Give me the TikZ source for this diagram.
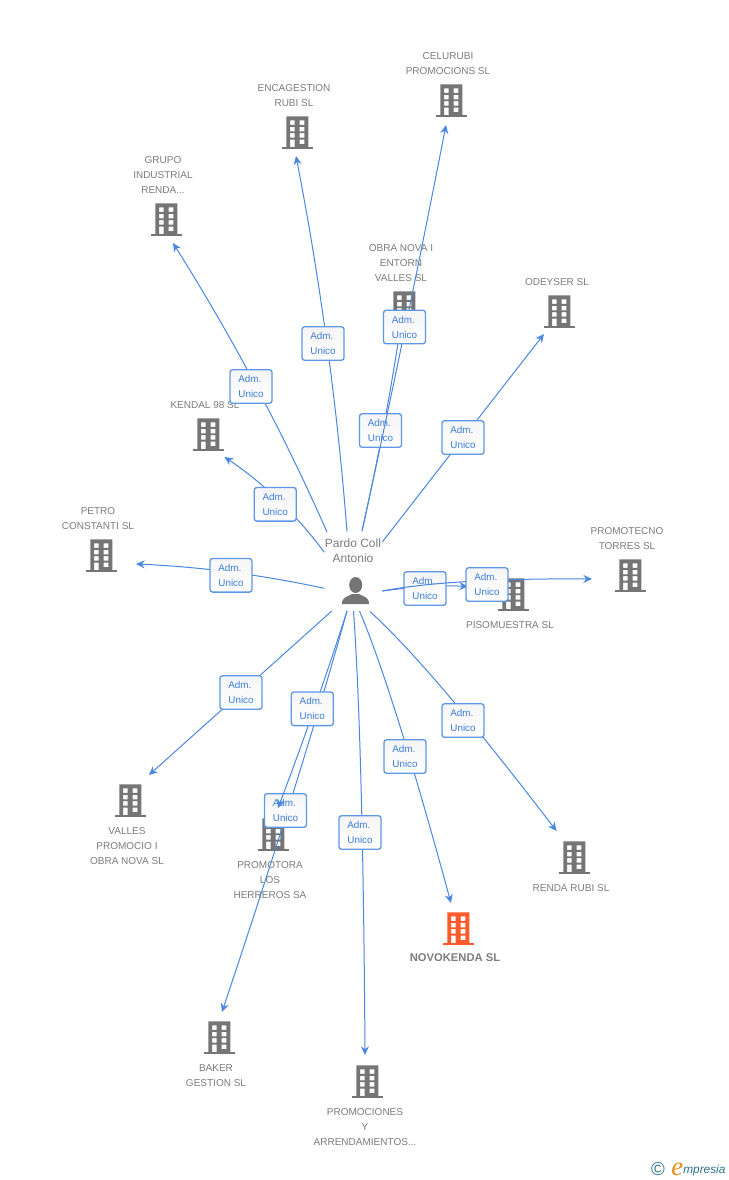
\documentclass[tikz,border=0pt]{standalone}
\usepackage{fontspec}
\setmainfont{Liberation Sans}
\newfontfamily\logofont{Liberation Serif}
\usetikzlibrary{arrows.meta,calc}
\definecolor{bgray}{HTML}{757575}
\definecolor{txtgray}{HTML}{7C7C7C}
\definecolor{hot}{HTML}{FF5A2C}
\definecolor{linkblue}{HTML}{4A87E3}
\definecolor{lbltxt}{HTML}{3C7CDC}
\definecolor{lblborder}{HTML}{5F97E8}
\definecolor{logoblue}{HTML}{2F7390}
\definecolor{logoorange}{HTML}{EE8A1E}
\tikzset{
  nametext/.style={text=txtgray,align=center,inner sep=0pt,yshift=-.6pt,font=\fontsize{7.5}{11.25}\selectfont},
  role/.style={draw=lblborder,line width=1pt,top color=black!4,bottom color=white,rounded corners=2pt,minimum width=31.5pt,minimum height=25.2pt,inner sep=0pt,align=left,text=lbltxt,font=\fontsize{7.4}{11.25}\selectfont},
  link/.style={draw=linkblue,line width=.75pt,-{Stealth[length=6.5pt,width=6pt]}}
}
\newcommand{\bldg}[6]{%
  \begin{scope}[shift={(#2,#3)}]
    \fill[#4,even odd rule] (-10.7,-16.7) rectangle (11.3,15)
      (-7,-12.7) rectangle (-2.4,-8.2) (2.5,-12.7) rectangle (7.3,-8.2)
      (-7,-6.2) rectangle (-2.4,-1.7) (2.5,-6.2) rectangle (7.3,-1.7)
      (-7,0.2) rectangle (-2.4,4.7) (2.5,0.2) rectangle (7.3,4.7)
      (-7,6.7) rectangle (-2.4,15) (2.5,6.7) rectangle (7.3,11.2);
    \fill[#4] (-15.5,14.3) rectangle (16,16);
  \end{scope}
  \coordinate (b#1) at (#2,#3);
  \node[nametext] (t#1) at #5 {#6};
}
% id, start, label centre, quadratic control point, end
\newcommand{\edge}[5]{%
  \coordinate (s#1) at #2;
  \coordinate (e#1) at #5;
  \coordinate (q#1) at #4;
  \draw[link] (s#1) .. controls ($(s#1)!.667!(q#1)$) and ($(e#1)!.667!(q#1)$) .. (e#1);
  \node[role] (r#1) at #3 {Adm.\\Unico};
}
\begin{document}
\begin{tikzpicture}[x=.75pt,y=-.75pt]
\useasboundingbox (0,0) rectangle (728,1180);
\fill[white] (0,0) rectangle (728,1180);
% buildings and names
\bldg{grupo}{166}{220}{bgray}{(163,174)}{GRUPO\\INDUSTRIAL\\RENDA...}
\bldg{encag}{297}{133}{bgray}{(294,94.5)}{ENCAGESTION\\RUBI SL}
\bldg{celu}{451}{101}{bgray}{(448,62.5)}{CELURUBI\\PROMOCIONS SL}
\bldg{obra}{404}{308}{bgray}{(401,262)}{OBRA NOVA I\\ENTORN\\VALLES SL}
\bldg{odey}{559}{312}{bgray}{(557,281)}{ODEYSER SL}
\bldg{kendal}{208}{435}{bgray}{(205,404)}{KENDAL 98 SL}
\bldg{petro}{101}{556}{bgray}{(98,517.5)}{PETRO\\CONSTANTI SL}
\bldg{piso}{513}{595}{bgray}{(510,624)}{PISOMUESTRA SL}
\bldg{tecno}{630}{576}{bgray}{(627,537.5)}{PROMOTECNO\\TORRES SL}
\bldg{valles}{130}{801}{bgray}{(127,845)}{VALLES\\PROMOCIO I\\OBRA NOVA SL}
\bldg{herr}{273}{835}{bgray}{(270,879)}{PROMOTORA\\LOS\\HERREROS SA}
\bldg{baker}{219}{1038}{bgray}{(216,1074.5)}{BAKER\\GESTION SL}
\bldg{arren}{367}{1082}{bgray}{(365,1126)}{PROMOCIONES\\Y\\ARRENDAMIENTOS...}
\bldg{renda}{574}{858}{bgray}{(571,887)}{RENDA RUBI SL}
\bldg{novo}{458}{929}{hot}{(455,957)}{\fontsize{8.4}{11.25}\selectfont\textbf{NOVOKENDA SL}}
% person
\node[text=txtgray,align=center,inner sep=0pt,font=\fontsize{9}{11.25}\selectfont] (pname) at (353,550.5) {Pardo Coll\\Antonio};
\node[minimum size=22.5pt,inner sep=0pt] (person) at (355,592) {};
\fill[bgray] (355.7,585) ellipse (6.5 and 8);
\fill[bgray] (342,604) .. controls (342,597) and (347,597) .. (352,594) -- (359,594)
  .. controls (364,597) and (369,597) .. (369,604) -- cycle;
% connectors, each with its role label, in stacking order
\edge{grupo}{(327,532)}{(251,386.5)}{(262,384.5)}{(173,243)}
\edge{encag}{(347,531.5)}{(323,343.5)}{(332.5,344.5)}{(296,156)}
\edge{obra}{(362,531)}{(380.5,430.5)}{(387,420)}{(403,310)}
\edge{celu}{(362,531)}{(404.5,327)}{(406,330)}{(446,125)}
\edge{odey}{(382.3,542)}{(463,437.5)}{(463,438)}{(544,334)}
\edge{kendal}{(324.3,552.3)}{(275.2,504.3)}{(282.6,496)}{(224.5,457)}
\edge{petro}{(324.3,588.3)}{(231,575.3)}{(230,568)}{(136,564)}
\edge{piso}{(382.3,591)}{(425,588.5)}{(430,584.5)}{(468,586.5)}
\edge{tecno}{(382.3,591)}{(487,584.5)}{(450,578)}{(592,579)}
\edge{valles}{(331.7,611)}{(241,692.5)}{(241,692.5)}{(149,775)}
\edge{baker}{(347,611)}{(285.5,810.5)}{(303,770)}{(222,1012)}
\edge{herr}{(347,611)}{(312.3,708.8)}{(316,708)}{(278,808)}
\edge{arren}{(353.5,611)}{(360,832.5)}{(363,745)}{(365,1055)}
\edge{novo}{(359.5,611)}{(405,756.5)}{(393,690)}{(451,903)}
\edge{renda}{(370,611.5)}{(463,720.5)}{(432,668)}{(556.5,831)}
% logo
\node[text=logoblue,inner sep=0pt,font=\fontsize{14}{14}\selectfont] (copy) at (658,1169) {©};
\node[anchor=base west,inner sep=0pt,font=\logofont\itshape\fontsize{20}{20}\selectfont,text=logoorange] (logoe) at (671,1175) {e};
\node[anchor=base west,inner sep=0pt,font=\itshape\fontsize{8.9}{12}\selectfont,text=logoblue] (logo) at (683,1173) {mpresia};
\end{tikzpicture}
\end{document}
